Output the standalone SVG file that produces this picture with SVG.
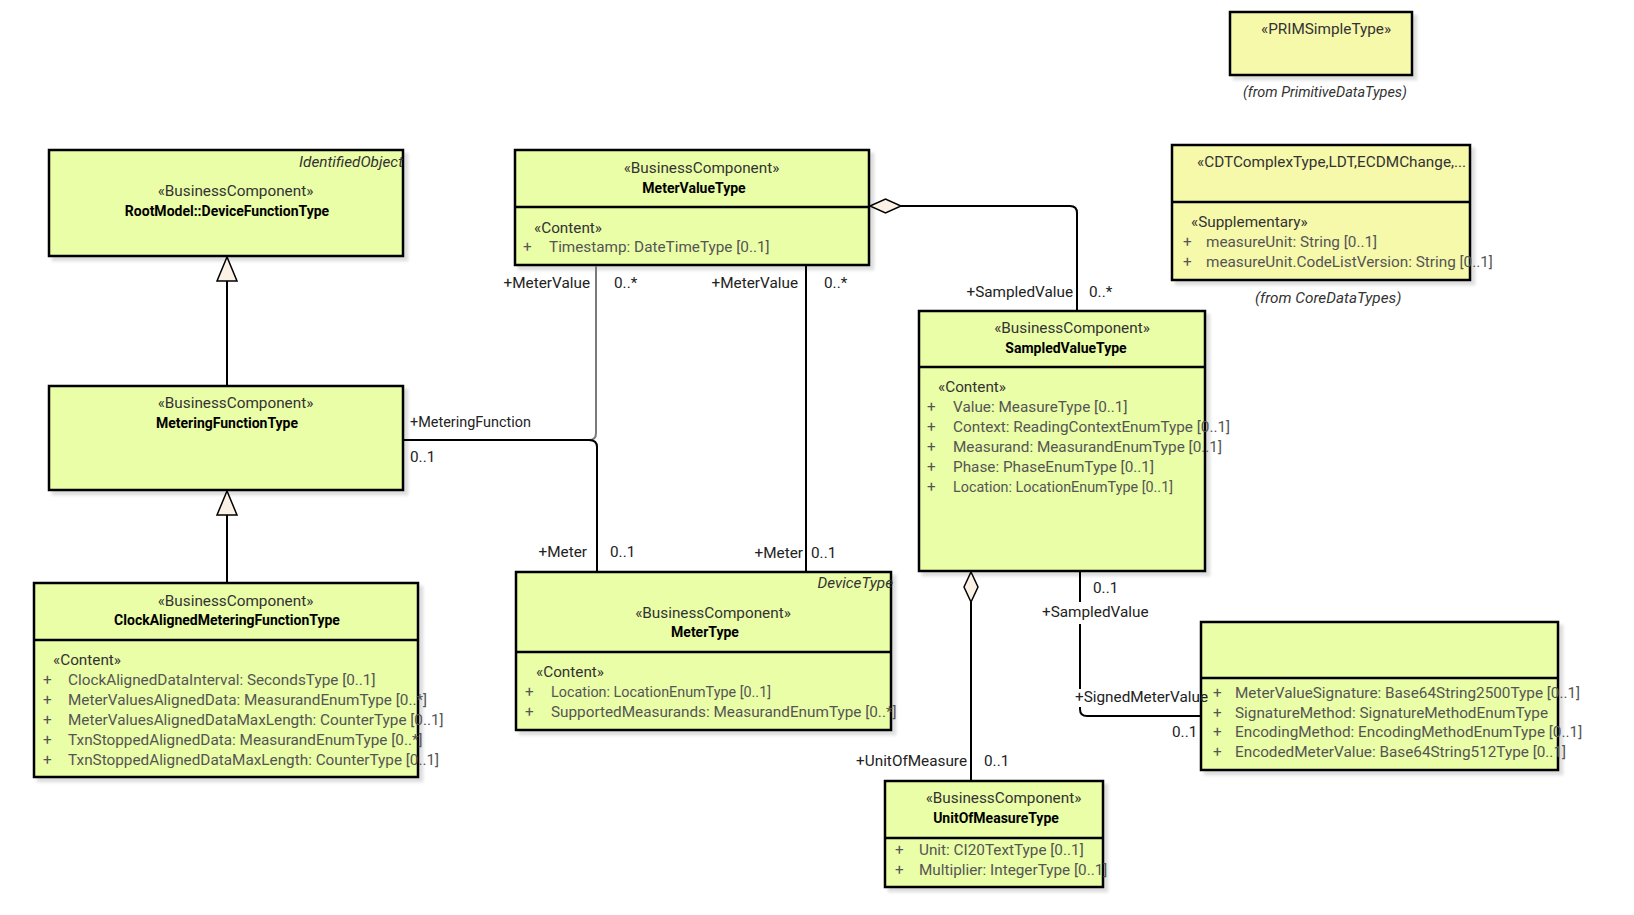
<svg xmlns="http://www.w3.org/2000/svg" width="1634" height="915" viewBox="0 0 1634 915">
<defs>
<filter id="sh" x="-5%" y="-5%" width="115%" height="120%">
<feDropShadow dx="4" dy="4" stdDeviation="1.5" flood-color="#000" flood-opacity="0.13"/>
</filter>
<style>
text{font-family:Roboto,"Liberation Sans",sans-serif;font-size:15.3px;fill:#222}
.box{fill:#EAFDA7;stroke:#000;stroke-width:2.5;filter:url(#sh)}
.ybox{fill:#F6F8AA;stroke:#000;stroke-width:2.5;filter:url(#sh)}
.div{stroke:#000;stroke-width:2.5}
.st{text-anchor:middle;fill:#333}
.nm{text-anchor:middle;font-weight:bold;fill:#000;font-size:14px}
.it{font-style:italic;fill:#333}
.attr{fill:#555}
.lbl{fill:#222}
.end{text-anchor:end}
.ln{fill:none;stroke:#000;stroke-width:2}
.lg{fill:none;stroke:#7a7a7a;stroke-width:2}
.head{fill:#FBF1E5;stroke:#000;stroke-width:1.5}
</style>
</defs>
<rect width="1634" height="915" fill="#fff"/>

<g id="RootModelDeviceFunctionType">
<rect class="box" x="49" y="150" width="354" height="106"/>
<text class="it end" x="403" y="167">IdentifiedObject</text>
<text class="st" x="235.5" y="196">«BusinessComponent»</text>
<text class="nm" x="227" y="216">RootModel::DeviceFunctionType</text>
</g>

<g id="MeteringFunctionType">
<rect class="box" x="49" y="386" width="354" height="104"/>
<text class="st" x="235.5" y="408">«BusinessComponent»</text>
<text class="nm" x="227" y="428">MeteringFunctionType</text>
</g>

<g id="ClockAlignedMeteringFunctionType">
<rect class="box" x="34" y="583" width="384" height="194"/>
<line class="div" x1="34" y1="640" x2="418" y2="640"/>
<text class="st" x="235.5" y="606">«BusinessComponent»</text>
<text class="nm" x="227" y="625">ClockAlignedMeteringFunctionType</text>
<text class="attr" x="53" y="665" style="fill:#333">«Content»</text>
<text class="attr" x="43" y="685">+</text><text class="attr" x="68" y="685">ClockAlignedDataInterval: SecondsType [0..1]</text>
<text class="attr" x="43" y="705">+</text><text class="attr" x="68" y="705">MeterValuesAlignedData: MeasurandEnumType [0..*]</text>
<text class="attr" x="43" y="725">+</text><text class="attr" x="68" y="725">MeterValuesAlignedDataMaxLength: CounterType [0..1]</text>
<text class="attr" x="43" y="745">+</text><text class="attr" x="68" y="745">TxnStoppedAlignedData: MeasurandEnumType [0..*]</text>
<text class="attr" x="43" y="765">+</text><text class="attr" x="68" y="765">TxnStoppedAlignedDataMaxLength: CounterType [0..1]</text>
</g>

<g id="MeterValueType">
<rect class="box" x="515" y="150" width="354" height="115"/>
<line class="div" x1="515" y1="207" x2="869" y2="207"/>
<text class="st" x="701.5" y="173">«BusinessComponent»</text>
<text class="nm" x="694" y="193">MeterValueType</text>
<text class="attr" x="534" y="233" style="fill:#333">«Content»</text>
<text class="attr" x="523" y="252">+</text><text class="attr" x="549" y="252">Timestamp: DateTimeType [0..1]</text>
</g>

<g id="MeterType">
<rect class="box" x="516" y="572" width="375" height="158"/>
<line class="div" x1="516" y1="652" x2="891" y2="652"/>
<text class="it end" x="893" y="588">DeviceType</text>
<text class="st" x="713" y="618">«BusinessComponent»</text>
<text class="nm" x="705" y="637">MeterType</text>
<text class="attr" x="536" y="677" style="fill:#333">«Content»</text>
<text class="attr" x="525" y="697">+</text><text class="attr" x="551" y="697" textLength="220" lengthAdjust="spacingAndGlyphs">Location: LocationEnumType [0..1]</text>
<text class="attr" x="525" y="717">+</text><text class="attr" x="551" y="717">SupportedMeasurands: MeasurandEnumType [0..*]</text>
</g>

<g id="SampledValueType">
<rect class="box" x="919" y="311" width="286" height="260"/>
<line class="div" x1="919" y1="367" x2="1205" y2="367"/>
<text class="st" x="1072" y="333">«BusinessComponent»</text>
<text class="nm" x="1066" y="353">SampledValueType</text>
<text class="attr" x="938" y="392" style="fill:#333">«Content»</text>
<text class="attr" x="927" y="412">+</text><text class="attr" x="953" y="412">Value: MeasureType [0..1]</text>
<text class="attr" x="927" y="432">+</text><text class="attr" x="953" y="432">Context: ReadingContextEnumType [0..1]</text>
<text class="attr" x="927" y="452">+</text><text class="attr" x="953" y="452">Measurand: MeasurandEnumType [0..1]</text>
<text class="attr" x="927" y="472">+</text><text class="attr" x="953" y="472">Phase: PhaseEnumType [0..1]</text>
<text class="attr" x="927" y="492">+</text><text class="attr" x="953" y="492" textLength="220" lengthAdjust="spacingAndGlyphs">Location: LocationEnumType [0..1]</text>
</g>

<g id="UnitOfMeasureType">
<rect class="box" x="885" y="781" width="218" height="106"/>
<line class="div" x1="885" y1="838" x2="1103" y2="838"/>
<text class="st" x="1003.5" y="803">«BusinessComponent»</text>
<text class="nm" x="996" y="823">UnitOfMeasureType</text>
<text class="attr" x="895" y="855">+</text><text class="attr" x="919" y="855">Unit: CI20TextType [0..1]</text>
<text class="attr" x="895" y="875">+</text><text class="attr" x="919" y="875">Multiplier: IntegerType [0..1]</text>
</g>

<g id="SignedMeterValueType">
<rect class="box" x="1201" y="622" width="357" height="148"/>
<line class="div" x1="1201" y1="678" x2="1558" y2="678"/>
<text class="attr" x="1213" y="698">+</text><text class="attr" x="1235" y="698">MeterValueSignature: Base64String2500Type [0..1]</text>
<text class="attr" x="1213" y="718">+</text><text class="attr" x="1235" y="718">SignatureMethod: SignatureMethodEnumType</text>
<text class="attr" x="1213" y="737">+</text><text class="attr" x="1235" y="737">EncodingMethod: EncodingMethodEnumType [0..1]</text>
<text class="attr" x="1213" y="757">+</text><text class="attr" x="1235" y="757">EncodedMeterValue: Base64String512Type [0..1]</text>
</g>

<g id="PRIMSimpleType">
<rect class="ybox" x="1230" y="12" width="182" height="63"/>
<text x="1261" y="34" style="fill:#333">«PRIMSimpleType»</text>
<text class="it" x="1243" y="97" textLength="164" lengthAdjust="spacingAndGlyphs">(from PrimitiveDataTypes)</text>
</g>

<g id="CDTComplexType">
<rect class="ybox" x="1172" y="145" width="298" height="135"/>
<line class="div" x1="1172" y1="202" x2="1470" y2="202"/>
<text x="1197" y="167" style="fill:#333">«CDTComplexType,LDT,ECDMChange,...</text>
<text x="1191" y="227" style="fill:#333">«Supplementary»</text>
<text class="attr" x="1183" y="247">+</text><text class="attr" x="1206" y="247">measureUnit: String [0..1]</text>
<text class="attr" x="1183" y="267">+</text><text class="attr" x="1206" y="267">measureUnit.CodeListVersion: String [0..1]</text>
<text class="it" x="1255" y="303">(from CoreDataTypes)</text>
</g>

<g id="connectors">
<path class="ln" d="M227,281 V386"/>
<polygon class="head" points="227,257 217,281 237,281"/>
<path class="ln" d="M227,515 V583"/>
<polygon class="head" points="227,491 217,515 237,515"/>
<path class="lg" d="M404,440 H589 Q596,440 596,433 V266"/>
<path class="ln" d="M404,440 H589 Q597,440 597,447 V571"/>
<path class="ln" d="M806,266 V571"/>
<path class="ln" d="M901,206 H1070 Q1077,206 1077,213 V310"/>
<polygon class="head" points="870,206 885.5,199 901,206 885.5,213"/>
<path class="ln" d="M1080,572 V602 M1080,624 V689 M1080,707 V709 Q1080,716 1087,716 H1200"/>
<path class="ln" d="M971,602 V780"/>
<polygon class="head" points="971,572 978,587 971,602 964,587"/>

<text class="lbl end" x="590" y="288">+MeterValue</text>
<text class="lbl" x="614" y="288">0..*</text>
<text class="lbl end" x="798" y="288">+MeterValue</text>
<text class="lbl" x="824" y="288">0..*</text>
<text class="lbl" x="410" y="427" textLength="121" lengthAdjust="spacingAndGlyphs">+MeteringFunction</text>
<text class="lbl" x="410" y="462">0..1</text>
<text class="lbl end" x="587" y="557">+Meter</text>
<text class="lbl" x="610" y="557">0..1</text>
<text class="lbl end" x="803" y="558">+Meter</text>
<text class="lbl" x="811" y="558">0..1</text>
<text class="lbl end" x="1073" y="297">+SampledValue</text>
<text class="lbl" x="1089" y="297">0..*</text>
<text class="lbl" x="1093" y="593">0..1</text>
<text class="lbl" x="1042" y="617">+SampledValue</text>
<text class="lbl" x="1075" y="702">+SignedMeterValue</text>
<text class="lbl" x="1172" y="737">0..1</text>
<text class="lbl end" x="967" y="766">+UnitOfMeasure</text>
<text class="lbl" x="984" y="766">0..1</text>
</g>
</svg>
